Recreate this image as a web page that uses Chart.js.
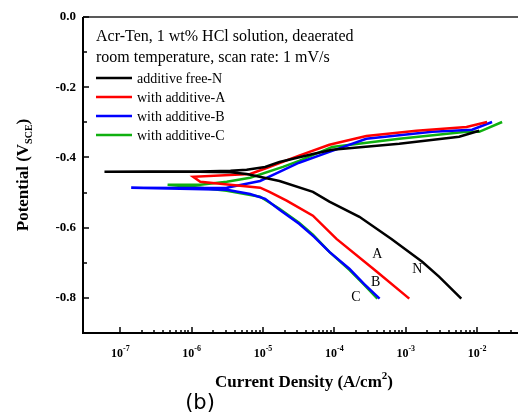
<!DOCTYPE html>
<html><head><meta charset="utf-8">
<script src="https://cdn.jsdelivr.net/npm/chart.js@4.4.1/dist/chart.umd.min.js"></script>
<style>html,body{margin:0;padding:0;background:#fff;overflow:hidden}</style>
</head><body>
<canvas id="c" width="518" height="419"></canvas>
<script>
// ---- data (current density in A/cm2, potential in V vs SCE) ----
const nCurrent   = [6.0e-3, 2.95e-3, 1.7e-3, 6.3e-4, 2.24e-4, 8.5e-5, 5.0e-5, 1.7e-5, 5.9e-6, 3.5e-6, 1.3e-6, 2.6e-7, 6.0e-8, 2.6e-7, 1.3e-6, 3.5e-6, 5.9e-6, 1.07e-5, 1.7e-5, 5.0e-5, 9.3e-5, 8.1e-4, 5.6e-3, 1.07e-2];
const nPotential = [-0.802, -0.740, -0.697, -0.632, -0.569, -0.526, -0.498, -0.467, -0.447, -0.442, -0.441, -0.441, -0.441, -0.440, -0.440, -0.438, -0.435, -0.427, -0.413, -0.390, -0.378, -0.361, -0.341, -0.324];

const aCurrent   = [1.12e-3, 3.9e-4, 1.07e-4, 5.0e-5, 2.14e-5, 1.23e-5, 9.1e-6, 2.5e-6, 1.32e-6, 1.05e-6, 6.6e-6, 1.12e-5, 3.2e-5, 8.5e-5, 2.8e-4, 1.41e-3, 7.1e-3, 1.38e-2];
const aPotential = [-0.802, -0.725, -0.632, -0.566, -0.523, -0.498, -0.486, -0.475, -0.469, -0.455, -0.447, -0.430, -0.395, -0.364, -0.339, -0.324, -0.313, -0.299];

const bCurrent   = [4.3e-4, 2.6e-4, 1.62e-4, 8.5e-5, 5.2e-5, 3.2e-5, 1.7e-5, 1.07e-5, 6.6e-6, 3.1e-6, 6.9e-7, 1.42e-7, 6.9e-7, 3.1e-6, 9.1e-6, 1.7e-5, 3.2e-5, 8.5e-5, 2.8e-4, 2.35e-3, 8.5e-3, 1.62e-2];
const bPotential = [-0.802, -0.760, -0.717, -0.669, -0.626, -0.589, -0.549, -0.518, -0.504, -0.492, -0.489, -0.486, -0.487, -0.486, -0.467, -0.441, -0.415, -0.384, -0.347, -0.327, -0.321, -0.299];

const cCurrent   = [4.0e-4, 2.6e-4, 1.62e-4, 8.5e-5, 5.0e-5, 3.2e-5, 1.7e-5, 9.1e-6, 3.1e-6, 1.32e-6, 4.6e-7, 1.32e-6, 3.1e-6, 6.6e-6, 1.9e-5, 3.2e-5, 9.3e-5, 8.1e-4, 7.1e-3, 1.07e-2, 2.24e-2];
const cPotential = [-0.802, -0.762, -0.720, -0.669, -0.620, -0.586, -0.546, -0.512, -0.495, -0.486, -0.478, -0.478, -0.469, -0.458, -0.427, -0.410, -0.370, -0.347, -0.327, -0.327, -0.299];

const seriesLabels = ['additive free-N', 'with additive-A', 'with additive-B', 'with additive-C'];
const curveTags    = ['N', 'A', 'B', 'C'];
const tagCurrent   = [1.45e-3, 4.0e-4, 3.8e-4, 2.0e-4];
const tagPotential = [-0.72, -0.677, -0.757, -0.797];

const xTickExponents = [-7, -6, -5, -4, -3, -2, -1];
const yTickValues    = [0.0, -0.2, -0.4, -0.6, -0.8];
const yMinorValues   = [-0.1, -0.3, -0.5, -0.7, -0.9];
const legendTitle    = ['Acr-Ten, 1 wt% HCl solution, deaerated', 'room temperature, scan rate: 1 mV/s'];

// ---- styles ----
const colors = ['#000000', '#ff0000', '#0000ff', '#10b010'];
const SERIF = '"Liberation Serif", "Times New Roman", serif';

function pts(xs, ys) { return xs.map((x, i) => ({x: x, y: ys[i]})); }
const seriesData = [pts(nCurrent, nPotential), pts(aCurrent, aPotential), pts(bCurrent, bPotential), pts(cCurrent, cPotential)];

const decor = {
  id: 'decor',
  afterDraw(chart) {
    const ctx = chart.ctx, xs = chart.scales.x, ys = chart.scales.y, a = chart.chartArea;
    ctx.save();
    ctx.strokeStyle = '#000'; ctx.fillStyle = '#000';
    // frame lines
    ctx.lineWidth = 2;
    ctx.beginPath();
    ctx.moveTo(a.left, a.top); ctx.lineTo(a.left, a.bottom); ctx.lineTo(a.right, a.bottom);
    ctx.stroke();
    ctx.lineWidth = 1.5; ctx.strokeStyle = '#222';
    ctx.beginPath(); ctx.moveTo(a.left, a.top); ctx.lineTo(a.right, a.top); ctx.stroke();
    ctx.strokeStyle = '#000';
    // y ticks (inward)
    ctx.lineWidth = 1.5;
    yTickValues.forEach(v => { const p = Math.round(ys.getPixelForValue(v)); ctx.beginPath(); ctx.moveTo(a.left, p); ctx.lineTo(a.left + 6, p); ctx.stroke(); });
    yMinorValues.forEach(v => { const p = Math.round(ys.getPixelForValue(v)); ctx.beginPath(); ctx.moveTo(a.left, p); ctx.lineTo(a.left + 4, p); ctx.stroke(); });
    // y tick labels
    ctx.font = 'bold 13px ' + SERIF; ctx.textAlign = 'right'; ctx.textBaseline = 'middle';
    yTickValues.forEach(v => { ctx.fillText(v.toFixed(1), a.left - 7, ys.getPixelForValue(v)); });
    // x ticks
    xTickExponents.forEach(e => {
      for (let m = 1; m <= 9; m++) {
        const val = m * Math.pow(10, e);
        const p = Math.round(xs.getPixelForValue(val));
        if (p < a.left || p > a.right) continue;
        const len = m === 1 ? 6 : 3;
        ctx.beginPath(); ctx.moveTo(p, a.bottom); ctx.lineTo(p, a.bottom - len); ctx.stroke();
      }
    });
    // x tick labels 10^n
    ctx.textBaseline = 'alphabetic';
    xTickExponents.forEach(e => {
      const p = xs.getPixelForValue(Math.pow(10, e));
      if (p < a.left || p > a.right - 10) return;
      ctx.font = 'bold 12px ' + SERIF;
      const w1 = ctx.measureText('10').width;
      ctx.font = 'bold 8px ' + SERIF;
      const sup = String(e);
      const w2 = ctx.measureText(sup).width;
      const x0 = p - (w1 + w2) / 2;
      ctx.font = 'bold 12px ' + SERIF; ctx.textAlign = 'left';
      ctx.fillText('10', x0, a.bottom + 24);
      ctx.font = 'bold 8px ' + SERIF;
      ctx.fillText(sup, x0 + w1, a.bottom + 18);
    });
    // x title
    const t1 = 'Current Density (A/cm';
    ctx.font = 'bold 17px ' + SERIF; const wt1 = ctx.measureText(t1).width;
    ctx.font = 'bold 11px ' + SERIF; const wt2 = ctx.measureText('2').width;
    ctx.font = 'bold 17px ' + SERIF; const wt3 = ctx.measureText(')').width;
    let tx = 304 - (wt1 + wt2 + wt3) / 2;
    ctx.textAlign = 'left';
    ctx.fillText(t1, tx, 387);
    ctx.font = 'bold 11px ' + SERIF; ctx.fillText('2', tx + wt1, 379);
    ctx.font = 'bold 17px ' + SERIF; ctx.fillText(')', tx + wt1 + wt2, 387);
    // y title (rotated)
    ctx.save();
    ctx.translate(28, (a.top + a.bottom) / 2);
    ctx.rotate(-Math.PI / 2);
    const y1 = 'Potential (V';
    ctx.font = 'bold 17px ' + SERIF; const wy1 = ctx.measureText(y1).width;
    ctx.font = 'bold 10px ' + SERIF; const wy2 = ctx.measureText('SCE').width;
    ctx.font = 'bold 17px ' + SERIF; const wy3 = ctx.measureText(')').width;
    const ty = -(wy1 + wy2 + wy3) / 2;
    ctx.fillText(y1, ty, 0);
    ctx.font = 'bold 10px ' + SERIF; ctx.fillText('SCE', ty + wy1, 4);
    ctx.font = 'bold 17px ' + SERIF; ctx.fillText(')', ty + wy1 + wy2, 0);
    ctx.restore();
    // legend
    ctx.textAlign = 'left'; ctx.textBaseline = 'middle';
    ctx.font = '16px ' + SERIF;
    ctx.fillText(legendTitle[0], 96, 37);
    ctx.fillText(legendTitle[1], 96, 58);
    ctx.font = '14px ' + SERIF;
    seriesLabels.forEach((lab, i) => {
      const yy = 78 + i * 19;
      ctx.strokeStyle = colors[i]; ctx.lineWidth = 2.5;
      ctx.beginPath(); ctx.moveTo(96, yy); ctx.lineTo(132, yy); ctx.stroke();
      ctx.fillStyle = '#000';
      ctx.fillText(lab, 137, yy + 1);
    });
    // curve tags
    ctx.font = '14px ' + SERIF; ctx.textAlign = 'center';
    curveTags.forEach((t, i) => {
      ctx.fillText(t, xs.getPixelForValue(tagCurrent[i]), ys.getPixelForValue(tagPotential[i]));
    });
    // (b)
    ctx.font = '21px "DejaVu Sans", sans-serif'; ctx.textAlign = 'center';
    ctx.fillText('(b)', 200, 404);
    ctx.restore();
  }
};

new Chart(document.getElementById('c'), {
  type: 'scatter',
  data: {
    datasets: seriesData.map((d, i) => ({
      label: seriesLabels[i], data: d, showLine: true, borderColor: colors[i], backgroundColor: colors[i],
      borderWidth: 2.5, pointRadius: 0, tension: 0
    }))
  },
  options: {
    responsive: false, animation: false, devicePixelRatio: 1,
    layout: { padding: { left: 83, top: 17, right: 0, bottom: 86 } },
    plugins: { legend: { display: false }, tooltip: { enabled: false } },
    scales: {
      x: { type: 'logarithmic', display: false, min: 3.04e-8, max: 3.74e-2 },
      y: { type: 'linear', display: false, min: -0.9, max: 0.0 }
    }
  },
  plugins: [decor]
});
</script>
</body></html>
